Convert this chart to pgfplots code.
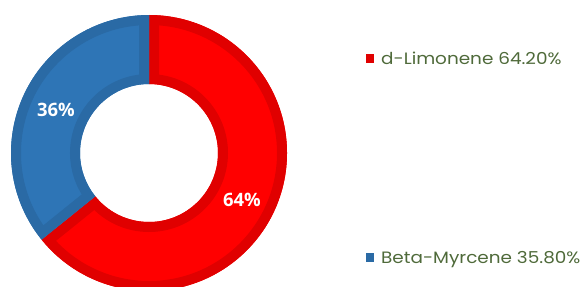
\documentclass[border=0pt]{standalone}
\usepackage{pgfplots}
\pgfplotsset{compat=1.18}
\usepackage{pgfplotstable}
\usepackage{fontspec}
\setmainfont{Open Sans}
\newfontfamily\legfont[FakeStretch=1.12]{Poppins}
\definecolor{redfill}{HTML}{FF0000}
\definecolor{rededge}{HTML}{E00000}
\definecolor{bluefill}{HTML}{2E75B6}
\definecolor{blueedge}{HTML}{2A6AA5}
\definecolor{legtext}{HTML}{4F6A3A}

\pgfplotstableread{
name value
d-Limonene 64.20
Beta-Myrcene 35.80
}\datatable

\pgfplotstablegetelem{0}{value}\of\datatable \let\va\pgfplotsretval
\pgfplotstablegetelem{1}{value}\of\datatable \let\vb\pgfplotsretval
\pgfmathsetmacro\aend{90-3.6*\va}
\pgfmathsetmacro\bend{\aend-3.6*\vb}

\newcommand\sectorpath[2]{([shift={(#1:138bp)}]axis cs:149,133) arc[start angle=#1,end angle=#2,radius=138bp] -- ([shift={(#2:69bp)}]axis cs:149,133) arc[start angle=#2,end angle=#1,radius=69bp] -- cycle}

\begin{document}
\begin{tikzpicture}[x=1bp,y=1bp]
\path[use as bounding box] (0,0) rectangle (584,286);
\clip (0,0) rectangle (584,286);
\begin{axis}[x=1bp,y=1bp,xmin=0,xmax=584,ymin=0,ymax=286,hide axis,scale only axis,
  at={(0,0)},anchor=origin,clip=false]
% red sector
\fill[redfill] \sectorpath{90}{\aend};
\begin{scope}
\clip \sectorpath{90}{\aend};
\draw[rededge,line width=20bp] \sectorpath{90}{\aend};
\end{scope}
% blue sector
\fill[bluefill] \sectorpath{\aend}{\bend};
\begin{scope}
\clip \sectorpath{\aend}{\bend};
\draw[blueedge,line width=20bp] \sectorpath{\aend}{\bend};
\end{scope}
% labels
\node[text=white,font=\bfseries\fontsize{18.5}{18.5}\selectfont] at (axis cs:242,86) {64\%};
\node[text=white,font=\bfseries\fontsize{18.5}{18.5}\selectfont] at (axis cs:56,176) {36\%};
% legend
\fill[rededge] (axis cs:366,223) rectangle (axis cs:374,232);
\node[anchor=base west,inner sep=0pt,text=legtext,font=\legfont\fontsize{16.5}{16.5}\selectfont] at (axis cs:381,222) {d-Limonene 64.20\%};
\fill[blueedge] (axis cs:366,24) rectangle (axis cs:374,33);
\node[anchor=base west,inner sep=0pt,text=legtext,font=\legfont\fontsize{16.5}{16.5}\selectfont] at (axis cs:381,23) {Beta-Myrcene 35.80\%};
\end{axis}
\end{tikzpicture}
\end{document}
